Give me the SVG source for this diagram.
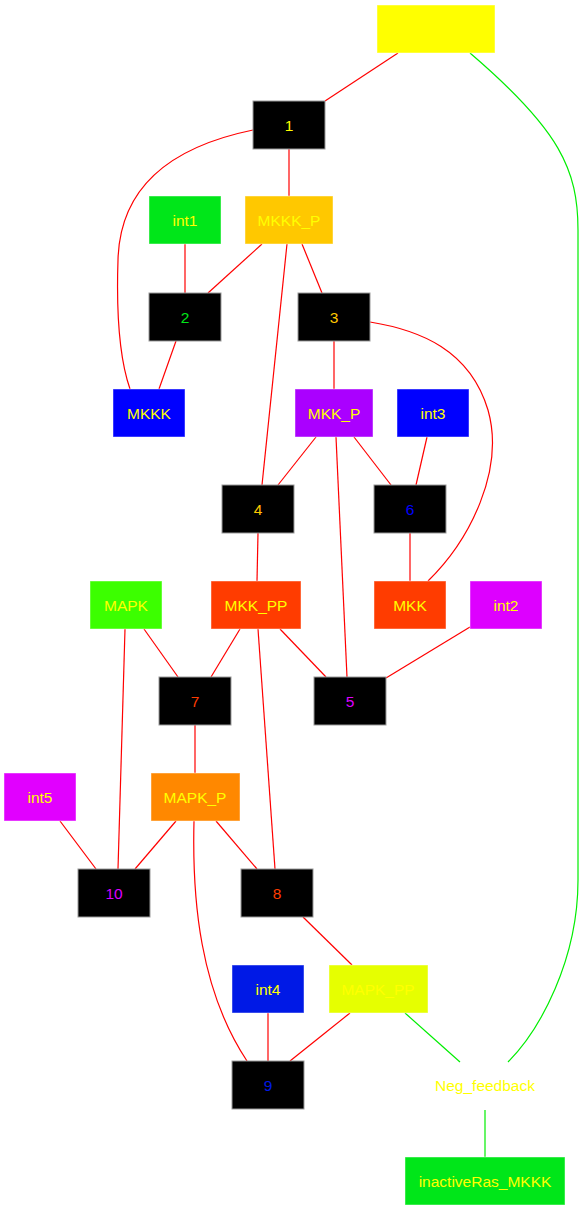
<svg xmlns="http://www.w3.org/2000/svg" width="585" height="1211" viewBox="0 0 585 1211">
<style>
.n rect{stroke:#ffffff;stroke-opacity:0.45;stroke-width:1}
.k rect{fill:#000;stroke:#999;stroke-opacity:1}
text{font-family:"Liberation Sans",Arial,sans-serif;font-size:15.5px;text-anchor:middle;fill:#ffff00}
.e path{fill:none;stroke:#ff0000;stroke-width:1.2}
.e path.g{stroke:#00ee00}
</style>
<rect width="585" height="1211" fill="#fff"/>
<g class="e" id="edges">
<path d="M398,53 L325,101"/>
<path class="g" d="M470,53 C560,130 578,170 578,230 L578,880 C578,960 540,1030 508,1062"/>
<path d="M289,149 L289,196"/>
<path d="M253,130 C180,145 120,180 118,260 C116,320 120,360 130,389"/>
<path d="M185,244 L185,293"/>
<path d="M262,244 L208,293"/>
<path d="M302,244 L322,293"/>
<path d="M287,244 L262,485"/>
<path d="M176,341 L159,389"/>
<path d="M334,341 L334,389"/>
<path d="M370,322 C420,330 470,350 488,410 C505,470 470,540 428,581"/>
<path d="M316,437 L278,485"/>
<path d="M336,437 L347,677"/>
<path d="M354,437 L391,485"/>
<path d="M427,437 L416,485"/>
<path d="M258,533 L257,581"/>
<path d="M410,533 L410,581"/>
<path d="M240,629 L211,677"/>
<path d="M280,629 L326,677"/>
<path d="M258,629 L275,869"/>
<path d="M144,629 L178,677"/>
<path d="M125,629 L118,869"/>
<path d="M470,627 L386,678"/>
<path d="M195,725 L195,773"/>
<path d="M60,821 L96,869"/>
<path d="M176,821 L135,869"/>
<path d="M216,821 L257,869"/>
<path d="M194,821 C192,900 200,990 247,1061"/>
<path d="M303,917 L352,965"/>
<path d="M268,1013 L268,1061"/>
<path d="M350,1013 L290,1061"/>
<path class="g" d="M405,1013 L460,1062"/>
<path class="g" d="M485,1110 L485,1157"/>
</g>
<g id="Ras_MKKK" class="n"><rect x="377" y="5" width="118" height="48" fill="#ffff00"/><text x="436" y="34.5">Ras_MKKK</text></g>
<g id="n1" class="n k"><rect x="253" y="101" width="72" height="48"/><text x="289" y="130.5">1</text></g>
<g id="int1" class="n"><rect x="149" y="196" width="72" height="48" fill="#00e619"/><text x="185" y="225.5">int1</text></g>
<g id="MKKK_P" class="n"><rect x="245" y="196" width="88" height="48" fill="#ffc800"/><text x="289" y="225.5">MKKK_P</text></g>
<g id="n2" class="n k"><rect x="149" y="293" width="72" height="48"/><text x="185" y="322.5" style="fill:#00e619">2</text></g>
<g id="n3" class="n k"><rect x="298" y="293" width="72" height="48"/><text x="334" y="322.5" style="fill:#ffc800">3</text></g>
<g id="MKKK" class="n"><rect x="113" y="389" width="72" height="48" fill="#0000ff"/><text x="149" y="418.5">MKKK</text></g>
<g id="MKK_P" class="n"><rect x="295" y="389" width="78" height="48" fill="#aa00ff"/><text x="334" y="418.5">MKK_P</text></g>
<g id="int3" class="n"><rect x="397" y="389" width="72" height="48" fill="#0000ff"/><text x="433" y="418.5">int3</text></g>
<g id="n4" class="n k"><rect x="222" y="485" width="72" height="48"/><text x="258" y="514.5" style="fill:#ffc800">4</text></g>
<g id="n6" class="n k"><rect x="374" y="485" width="72" height="48"/><text x="410" y="514.5" style="fill:#0000ff">6</text></g>
<g id="MAPK" class="n"><rect x="90" y="581" width="72" height="48" fill="#3cff00"/><text x="126" y="610.5">MAPK</text></g>
<g id="MKK_PP" class="n"><rect x="211" y="581" width="90" height="48" fill="#ff3c00"/><text x="256" y="610.5">MKK_PP</text></g>
<g id="MKK" class="n"><rect x="374" y="581" width="72" height="48" fill="#ff3c00"/><text x="410" y="610.5">MKK</text></g>
<g id="int2" class="n"><rect x="470" y="581" width="72" height="48" fill="#dd00ff"/><text x="506" y="610.5">int2</text></g>
<g id="n7" class="n k"><rect x="159" y="677" width="72" height="48"/><text x="195" y="706.5" style="fill:#ff3c00">7</text></g>
<g id="n5" class="n k"><rect x="314" y="677" width="72" height="48"/><text x="350" y="706.5" style="fill:#dd00ff">5</text></g>
<g id="int5" class="n"><rect x="4" y="773" width="72" height="48" fill="#e100ff"/><text x="40" y="802.5">int5</text></g>
<g id="MAPK_P" class="n"><rect x="151" y="773" width="89" height="48" fill="#ff8800"/><text x="195" y="802.5">MAPK_P</text></g>
<g id="n10" class="n k"><rect x="78" y="869" width="72" height="48"/><text x="114" y="898.5" style="fill:#dd00ff">10</text></g>
<g id="n8" class="n k"><rect x="241" y="869" width="72" height="48"/><text x="277" y="898.5" style="fill:#ff3c00">8</text></g>
<g id="int4" class="n"><rect x="232" y="965" width="72" height="48" fill="#0019e6"/><text x="268" y="994.5">int4</text></g>
<g id="MAPK_PP" class="n"><rect x="329" y="965" width="99" height="48" fill="#e6ff00"/><text x="378" y="994.5">MAPK_PP</text></g>
<g id="n9" class="n k"><rect x="232" y="1061" width="72" height="48"/><text x="268" y="1090.5" style="fill:#0019e6">9</text></g>
<g id="Neg_feedback"><text x="485" y="1090.5">Neg_feedback</text></g>
<g id="inactiveRas_MKKK" class="n"><rect x="405" y="1157" width="160" height="48" fill="#00e619"/><text x="485" y="1186.5">inactiveRas_MKKK</text></g>
</svg>
